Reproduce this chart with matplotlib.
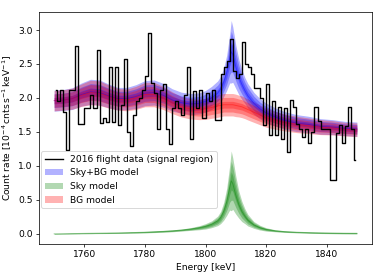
import matplotlib
matplotlib.use("Agg")
import matplotlib.pyplot as plt
import numpy as np

# Measured spectrum, 1 keV bins (bin centres 1750.5 ... 1849.5)
energy = np.arange(1750.5, 1850.0, 1.0)
counts = [
    2.12, 1.95, 2.12, 1.80, 1.23, 2.12, 2.12, 2.76, 1.62, 1.62,
    1.85, 1.85, 2.05, 1.85, 2.70, 1.63, 1.70, 1.65, 2.45, 1.65,
    2.45, 1.60, 1.90, 2.57, 1.50, 1.29, 1.75, 1.95, 2.00, 2.12,
    2.32, 2.95, 2.22, 2.07, 1.55, 2.12, 2.20, 1.55, 1.32, 1.85,
    1.95, 1.85, 1.75, 2.05, 2.45, 1.40, 2.10, 1.85, 2.12, 1.70,
    2.08, 1.95, 2.12, 1.68, 1.68, 2.35, 2.45, 2.55, 2.87, 2.40,
    2.30, 2.35, 2.83, 2.50, 2.45, 2.35, 2.15, 2.15, 2.00, 1.60,
    2.20, 1.45, 1.95, 1.45, 1.87, 1.40, 1.85, 1.21, 1.97, 1.86,
    1.62, 1.55, 1.43, 1.55, 1.33, 1.50, 1.87, 1.66, 1.55, 1.55,
    1.55, 0.79, 0.79, 1.48, 1.60, 1.33, 1.58, 1.86, 1.55, 1.08,
]

# Model grid (keV)
e_model = [
    1750, 1753, 1756, 1759, 1762, 1765, 1768, 1771, 1774, 1777,
    1780, 1783, 1786, 1789, 1792, 1795, 1798, 1800, 1802, 1804,
    1805, 1806, 1807, 1808, 1808.5, 1809, 1810, 1811, 1812, 1813,
    1814, 1816, 1818, 1820, 1823, 1826, 1830, 1834, 1838, 1842,
    1846, 1850,
]

# Background model: median and outer half-width
bg_mid = [
    1.96, 1.97, 1.99, 2.04, 2.08, 2.07, 2.02, 1.98, 1.97, 2.00,
    2.05, 2.05, 2.00, 1.93, 1.87, 1.84, 1.83, 1.84, 1.86, 1.88,
    1.89, 1.90, 1.90, 1.90, 1.90, 1.90, 1.89, 1.88, 1.87, 1.85,
    1.83, 1.79, 1.75, 1.71, 1.67, 1.64, 1.61, 1.59, 1.57, 1.56,
    1.54, 1.53,
]
bg_w = [
    0.150, 0.150, 0.155, 0.165, 0.180, 0.180, 0.170, 0.160, 0.160, 0.170,
    0.180, 0.180, 0.170, 0.160, 0.150, 0.150, 0.150, 0.155, 0.160, 0.165,
    0.165, 0.165, 0.165, 0.165, 0.165, 0.165, 0.165, 0.160, 0.160, 0.155,
    0.155, 0.150, 0.145, 0.140, 0.130, 0.125, 0.120, 0.115, 0.110, 0.105,
    0.100, 0.100,
]

# Sky model: median and outer half-width
sky_mid = [
    0.000, 0.002, 0.004, 0.006, 0.008, 0.010, 0.012, 0.014, 0.017, 0.020,
    0.024, 0.030, 0.036, 0.044, 0.055, 0.070, 0.090, 0.110, 0.140, 0.190,
    0.240, 0.330, 0.470, 0.680, 0.780, 0.740, 0.570, 0.430, 0.330, 0.260,
    0.200, 0.130, 0.090, 0.065, 0.045, 0.033, 0.024, 0.018, 0.014, 0.011,
    0.009, 0.008,
]
sky_w = [
    0.005, 0.005, 0.006, 0.006, 0.007, 0.007, 0.008, 0.008, 0.009, 0.010,
    0.011, 0.012, 0.013, 0.014, 0.015, 0.020, 0.030, 0.040, 0.050, 0.070,
    0.090, 0.130, 0.200, 0.330, 0.440, 0.380, 0.280, 0.200, 0.150, 0.110,
    0.085, 0.050, 0.035, 0.025, 0.015, 0.012, 0.010, 0.010, 0.010, 0.010,
    0.010, 0.010,
]

# Sky+BG model: median and outer half-width
skybg_mid = [
    1.96, 1.97, 1.99, 2.05, 2.09, 2.08, 2.03, 1.99, 1.99, 2.02,
    2.07, 2.08, 2.04, 1.97, 1.93, 1.91, 1.92, 1.95, 2.00, 2.07,
    2.13, 2.23, 2.37, 2.58, 2.68, 2.64, 2.46, 2.31, 2.20, 2.11,
    2.03, 1.92, 1.84, 1.78, 1.72, 1.67, 1.63, 1.61, 1.58, 1.57,
    1.55, 1.54,
]
skybg_w = [
    0.155, 0.155, 0.160, 0.170, 0.185, 0.185, 0.175, 0.165, 0.165, 0.175,
    0.185, 0.185, 0.175, 0.165, 0.155, 0.155, 0.155, 0.160, 0.170, 0.180,
    0.190, 0.210, 0.260, 0.360, 0.460, 0.410, 0.320, 0.260, 0.220, 0.190,
    0.180, 0.160, 0.150, 0.145, 0.135, 0.130, 0.125, 0.120, 0.115, 0.110,
    0.105, 0.105,
]

band_frac = [1.0, 0.65, 0.3]

models = [
    (skybg_mid, skybg_w, "blue", "Sky+BG model"),
    (sky_mid, sky_w, "green", "Sky model"),
    (bg_mid, bg_w, "red", "BG model"),
]

fig = plt.figure(figsize=(382 / 66, 272 / 66), dpi=66)
ax = fig.add_axes([39 / 382, 28 / 272, 333 / 382, 232 / 272])

ax.step(energy, counts, where="mid", color="black", lw=1.5, zorder=5,
        label="2016 flight data (signal region)")

# Credible bands, one level at a time for all models
for k, f in enumerate(band_frac):
    for mid, w, color, label in models:
        mid = np.asarray(mid)
        w = np.asarray(w)
        ax.fill_between(e_model, mid - f * w, mid + f * w, color=color,
                        alpha=0.3, lw=0, label=label if k == 0 else None)

for mid, w, color, label in models:
    ax.plot(e_model, mid, color=color, alpha=0.4, lw=1)

ax.set_xlim(1745, 1855)
ax.set_ylim(-0.15, 3.265)
ax.set_yticks([0.0, 0.5, 1.0, 1.5, 2.0, 2.5, 3.0])
ax.set_xticks([1760, 1780, 1800, 1820, 1840])
ax.set_xlabel("Energy [keV]")
ax.set_ylabel(r"Count rate [$10^{-4}\,\mathrm{cnts\,s^{-1}\,keV^{-1}}$]")

ax.legend(loc="upper left", bbox_to_anchor=(0.006, 0.40), borderaxespad=0)

fig.savefig("out.png", dpi=66)
